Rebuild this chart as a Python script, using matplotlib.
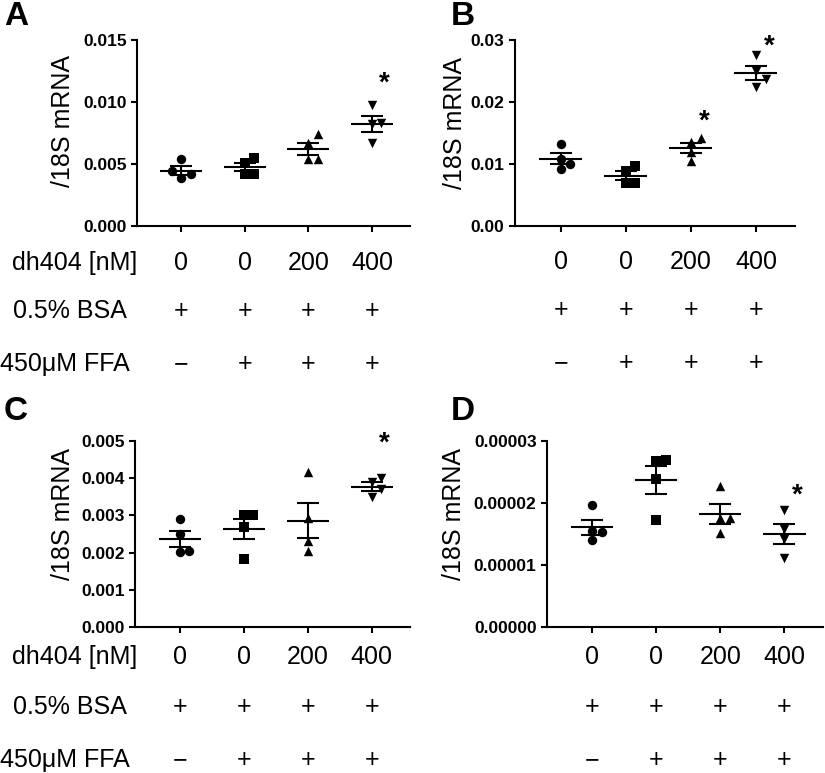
import numpy as np
import matplotlib
matplotlib.use("Agg")
import matplotlib.pyplot as plt
import matplotlib.transforms as mtransforms
from matplotlib.ticker import FormatStrFormatter

plt.rcParams['font.family'] = ['Liberation Sans', 'DejaVu Sans']

# ---- data ----
groups = ["0", "0", "200", "400"]
bsa = ["+", "+", "+", "+"]
ffa = ["\u2212", "+", "+", "+"]
row_names = ["dh404 [nM]", "0.5% BSA", "450\u03bcM FFA"]

a_vals = [[0.0054, 0.0044, 0.0042, 0.0039],
          [0.00547, 0.00506, 0.0042, 0.0042],
          [0.00738, 0.00672, 0.00539, 0.00539],
          [0.00978, 0.0083, 0.0082, 0.00668]]
b_vals = [[0.0133, 0.0108, 0.0100, 0.0092],
          [0.0097, 0.0089, 0.0069, 0.0069],
          [0.0142, 0.0136, 0.0120, 0.0105],
          [0.0276, 0.0250, 0.0237, 0.0225]]
c_vals = [[0.00289, 0.0025, 0.00203, 0.00202],
          [0.0030, 0.0030, 0.00268, 0.00184],
          [0.00416, 0.00293, 0.0023, 0.00205],
          [0.0040, 0.0039, 0.0037, 0.0035]]
d_vals = [[1.96e-5, 1.55e-5, 1.53e-5, 1.40e-5],
          [2.67e-5, 2.69e-5, 2.39e-5, 1.73e-5],
          [2.27e-5, 1.76e-5, 1.76e-5, 1.51e-5],
          [1.88e-5, 1.58e-5, 1.42e-5, 1.12e-5]]

a_star = {3: 0.0115}
b_star = {2: 0.0168, 3: 0.0290}
c_star = {3: 0.00493}
d_star = {3: 2.12e-5}

W, H = 825, 773
fig = plt.figure(figsize=(W / 100, H / 100), dpi=100)
markers = ['o', 's', '^', 'v']


def px_axes(x0, y0, x1, y1):
    return fig.add_axes([x0 / W, 1 - y1 / H, (x1 - x0) / W, (y1 - y0) / H])


def swarm(vals, ppu, ppc, d=0.15, mind=9.0):
    # simple beeswarm: spread points that would overlap
    placed = []
    offs = []
    for v in vals:
        for c in [0, d, -d, 2 * d, -2 * d]:
            ok = all(np.hypot((c - pc) * ppc, (v - pv) * ppu) >= mind for pc, pv in placed)
            if ok:
                break
        placed.append((c, v))
        offs.append(c)
    return offs


def panel(box, data, ymax, step, fmt, stars, letter, letter_xy, ylab_xy, rows_y, show_names):
    x0, y0, x1, y1 = box
    ax = px_axes(*box)
    ax.set_xlim(-0.7, 3.6)
    ax.set_ylim(0, ymax)
    ppc = (x1 - x0) / 4.3
    ppu = (y1 - y0) / ymax
    for i, vals in enumerate(data):
        vals = np.array(vals)
        offs = swarm(sorted(vals), ppu, ppc)
        ax.scatter(i + np.array(offs), sorted(vals), marker=markers[i], s=46,
                   color='black', zorder=3, linewidths=0)
        m = vals.mean()
        sem = vals.std(ddof=1) / np.sqrt(len(vals))
        ax.hlines(m, i - 0.33, i + 0.33, color='black', lw=1.5, zorder=4)
        ax.errorbar(i, m, yerr=sem, fmt='none', ecolor='black', elinewidth=1.5,
                    capsize=8, capthick=1.5, zorder=4)
    for i, yv in stars.items():
        ax.text(i + 0.2, yv, "*", ha='center', va='center', fontsize=20, fontweight='bold')
    ax.set_yticks(np.arange(0, ymax + step / 2, step))
    ax.yaxis.set_major_formatter(FormatStrFormatter(fmt))
    ax.set_xticks(range(4))
    ax.set_xticklabels([])
    for s in ['top', 'right']:
        ax.spines[s].set_visible(False)
    for s in ['left', 'bottom']:
        ax.spines[s].set_linewidth(1.5)
    ax.tick_params(width=1.5, length=4, labelsize=12.5, direction='out')
    for lab in ax.get_yticklabels():
        lab.set_fontweight('bold')
    fig.text(ylab_xy[0] / W, 1 - ylab_xy[1] / H, "/18S mRNA", rotation=90,
             ha='center', va='center', fontsize=18)
    fig.text(letter_xy[0] / W, 1 - letter_xy[1] / H, letter, ha='left', va='top',
             fontsize=24, fontweight='bold')
    tr = mtransforms.blended_transform_factory(ax.transData, fig.transFigure)
    for ry, row in zip(rows_y, [groups, bsa, ffa]):
        for i, t in enumerate(row):
            ax.text(i, 1 - ry / H, t, transform=tr, ha='center', va='center',
                    fontsize=18, clip_on=False)
    if show_names:
        for nx, ry, name in zip([12, 13, 0], rows_y, row_names):
            fig.text(nx / W, 1 - ry / H, name, ha='left', va='center', fontsize=18)
    return ax


panel((137, 40, 410, 226), a_vals, 0.015, 0.005, '%.3f', a_star, "A", (4, 1), (63, 121),
      [263, 311, 364], True)
panel((515, 40, 795, 226), b_vals, 0.03, 0.01, '%.2f', b_star, "B", (451, 1), (455, 123),
      [262, 310, 363], False)
panel((135, 441, 410, 627), c_vals, 0.005, 0.001, '%.3f', c_star, "C", (4, 396), (63, 514),
      [657, 707, 760], True)
panel((547, 441, 823, 627), d_vals, 0.00003, 0.00001, '%.5f', d_star, "D", (451, 396), (454, 514),
      [657, 707, 760], False)

fig.savefig("out.png", dpi=100)
